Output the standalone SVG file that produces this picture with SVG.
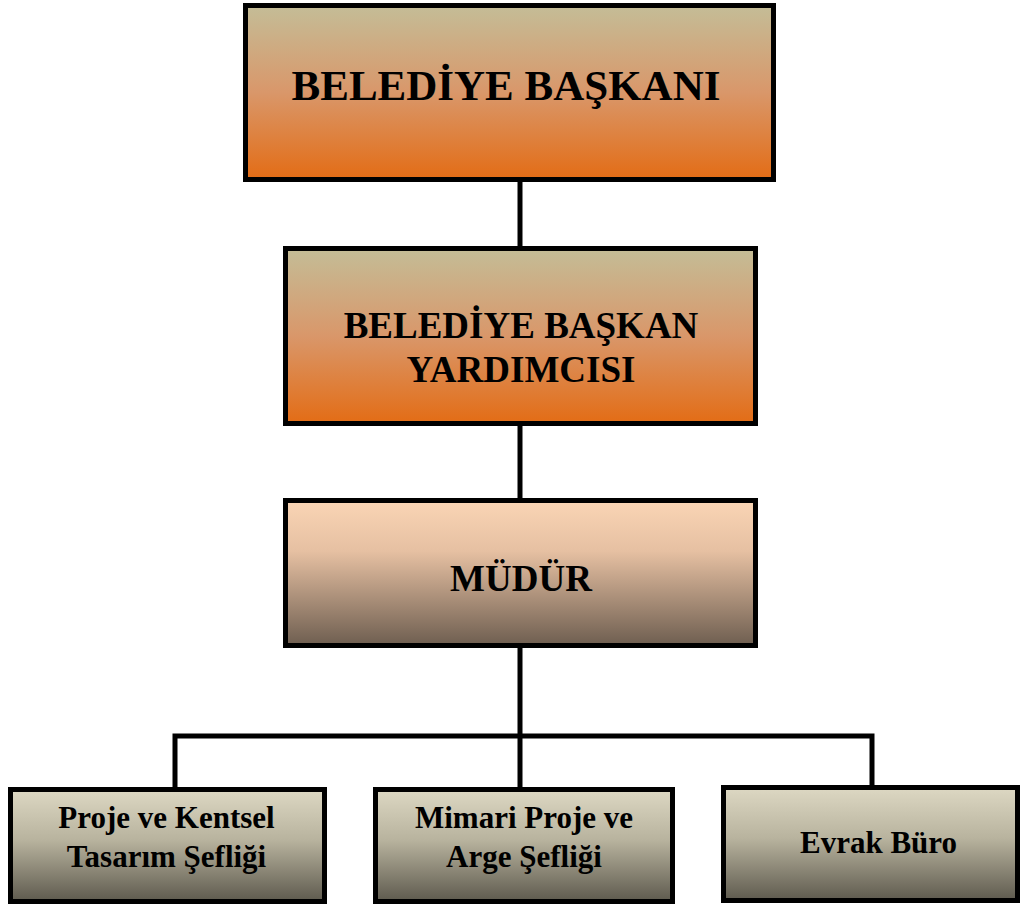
<svg xmlns="http://www.w3.org/2000/svg" width="1024" height="907" viewBox="0 0 1024 907">
<defs>
<linearGradient id="gOrange" x1="0" y1="0" x2="0" y2="1">
<stop offset="0" stop-color="#c4bd97"/>
<stop offset="0.5" stop-color="#d9976a"/>
<stop offset="1" stop-color="#e36c15"/>
</linearGradient>
<linearGradient id="gPeach" x1="0" y1="0" x2="0" y2="1">
<stop offset="0" stop-color="#fad5b5"/>
<stop offset="0.35" stop-color="#e6c0a2"/>
<stop offset="1" stop-color="#6e5e50"/>
</linearGradient>
<linearGradient id="gGray" x1="0" y1="0" x2="0" y2="1">
<stop offset="0" stop-color="#ddd8c3"/>
<stop offset="0.45" stop-color="#b8b39e"/>
<stop offset="1" stop-color="#5e5a4e"/>
</linearGradient>
<style>
.box{stroke:#000;stroke-width:5}
.t{font-family:"Liberation Serif","Times New Roman",serif;font-weight:bold;fill:#000;text-anchor:middle}
.c{fill:none;stroke:#000;stroke-width:5}
</style>
</defs>
<rect width="1024" height="907" fill="#fff"/>
<g id="connectors">
<line class="c" x1="520" y1="182" x2="520" y2="248"/>
<line class="c" x1="520" y1="426" x2="520" y2="500"/>
<line class="c" x1="520" y1="648" x2="520" y2="789"/>
<polyline class="c" points="175,789 175,736 872,736 872,787"/>
</g>
<g id="n1">
<rect class="box" x="245.5" y="5.5" width="528" height="174" fill="url(#gOrange)"/>
<text class="t" x="506" y="100" font-size="43">BELEDİYE BAŞKANI</text>
</g>
<g id="n2">
<rect class="box" x="285.5" y="248.5" width="470" height="175" fill="url(#gOrange)"/>
<text class="t" x="521" y="338" font-size="37">BELEDİYE BAŞKAN</text>
<text class="t" x="521" y="382" font-size="37">YARDIMCISI</text>
</g>
<g id="n3">
<rect class="box" x="285.5" y="500.5" width="470" height="145" fill="url(#gPeach)"/>
<text class="t" x="521" y="591" font-size="37">MÜDÜR</text>
</g>
<g id="n4">
<rect class="box" x="10.5" y="789.5" width="314" height="112" fill="url(#gGray)"/>
<text class="t" x="166.5" y="828" font-size="31">Proje ve Kentsel</text>
<text class="t" x="166.5" y="867" font-size="31">Tasarım Şefliği</text>
</g>
<g id="n5">
<rect class="box" x="375.5" y="789.5" width="297" height="112" fill="url(#gGray)"/>
<text class="t" x="524" y="828" font-size="31">Mimari Proje ve</text>
<text class="t" x="524" y="867" font-size="31">Arge Şefliği</text>
</g>
<g id="n6">
<rect class="box" x="723.5" y="787.5" width="294" height="113" fill="url(#gGray)"/>
<text class="t" x="878.5" y="853" font-size="31">Evrak Büro</text>
</g>
</svg>
